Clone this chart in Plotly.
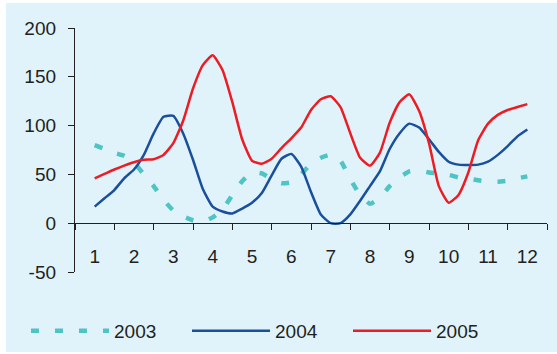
import plotly.graph_objects as go

# Sample positions along the month axis (quarter-month steps, 1 .. 12)
months = [1 + 0.25 * i for i in range(45)]
month_labels = [str(m) for m in range(1, 13)]
y_ticks = [-50, 0, 50, 100, 150, 200]
y_tick_labels = ["-50", "0", "50", "100", "150", "200"]

values_2003 = [80, 76, 72, 69, 62, 50, 38, 24, 13, 7, 3, 1.5, 6, 14, 29, 43,
               52, 51, 45, 41, 42, 50, 61, 67, 70, 64, 45, 29, 20, 26, 38, 47,
               53, 54, 52, 51, 49.5, 47, 45.5, 44, 42.5, 42.5, 43.5, 46, 48]
values_2004 = [17, 25.5, 34, 46, 55, 70, 92, 109, 110, 92, 65, 35, 17, 12, 10, 15,
               21, 31, 49, 66, 71, 58, 32, 9, 0, 0, 9, 23, 38, 53, 76, 92,
               102, 98, 86, 73, 63, 60, 59.6, 60, 63, 70, 79, 89, 96]
values_2005 = [46, 50.5, 55, 59, 62.5, 65, 65.5, 70, 82, 105, 138, 162, 172, 157, 124, 86,
               64, 61, 66, 77, 87, 98, 116, 127, 130, 119, 92, 67, 59, 72, 103, 124,
               132, 115, 82, 38, 21, 29, 52, 85, 102, 111, 116, 119, 122]

series_names = ["2003", "2004", "2005"]

BG = "#E0F3FA"
TEXT = "#231F20"
W, H = 557, 354
L, R, T, B = 75, 10, 28, 82
PW, PH = W - L - R, H - T - B

fig = go.Figure()
fig.add_trace(go.Scatter(x=months, y=values_2003, name=series_names[0], mode="lines",
                         line=dict(color="#4FC4C4", width=4.5, dash="8px,16px",
                                   shape="spline", smoothing=0.5)))
fig.add_trace(go.Scatter(x=months, y=values_2004, name=series_names[1], mode="lines",
                         line=dict(color="#1A4F9E", width=2.5, shape="spline", smoothing=0.5)))
fig.add_trace(go.Scatter(x=months, y=values_2005, name=series_names[2], mode="lines",
                         line=dict(color="#EC1C24", width=2.5, shape="spline", smoothing=0.5)))


def px_x(p):
    return (p - L) / PW


def px_y(p):
    return (H - B - p) / PH


# white frame strips around the light-blue panel
white_strips = [
    (0, 0, W, 3),
    (0, 0, 6, H),
    (0, 352, W, H),
]
shapes = [dict(type="rect", xref="paper", yref="paper", layer="below",
               x0=px_x(x0), x1=px_x(x1), y0=px_y(y1), y1=px_y(y0),
               fillcolor="white", line=dict(width=0))
          for x0, y0, x1, y1 in white_strips]

fig.update_layout(
    width=W, height=H,
    margin=dict(l=L, r=R, t=T, b=B, autoexpand=False),
    paper_bgcolor=BG, plot_bgcolor=BG,
    font=dict(family="Liberation Sans, Arial, sans-serif", size=19, color=TEXT),
    showlegend=True,
    legend=dict(orientation="h", x=px_x(26), xanchor="left", y=px_y(331), yanchor="middle",
                bgcolor="rgba(0,0,0,0)", font=dict(size=19, color=TEXT),
                itemwidth=78, tracegroupgap=0, entrywidth=68),
    shapes=shapes,
    xaxis=dict(range=[0.5, 12.5], tickvals=list(range(1, 13)), ticktext=month_labels,
               ticks="outside", ticklen=0, showgrid=False, zeroline=False,
               showline=True, linecolor=TEXT, linewidth=1.3,
               anchor="free", position=50 / 250, ticklabelstandoff=16,
               minor=dict(tickvals=[k + 0.5 for k in range(13)], ticks="outside",
                          ticklen=6, tickcolor=TEXT, tickwidth=1.3, showgrid=False)),
    yaxis=dict(range=[-50, 200], tickvals=y_ticks, ticktext=y_tick_labels,
               ticks="outside", ticklen=6, tickcolor=TEXT,
               tickwidth=1.3, showgrid=False, zeroline=False, showline=True,
               linecolor=TEXT, linewidth=1.3, ticklabelstandoff=8),
)

fig.write_html("out.html")
